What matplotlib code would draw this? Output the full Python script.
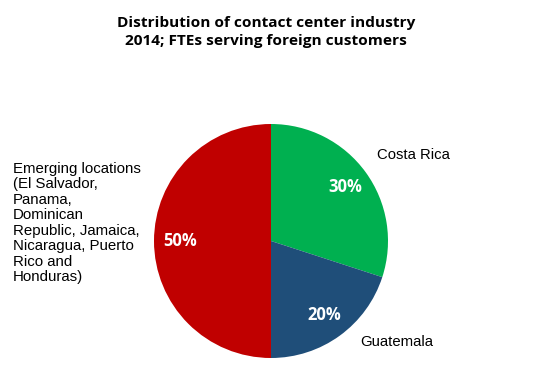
import matplotlib
matplotlib.use('Agg')
import matplotlib.pyplot as plt
import numpy as np

# Data
labels = ['Costa Rica', 'Guatemala',
          'Emerging locations\n(El Salvador,\nPanama,\nDominican\nRepublic, Jamaica,\nNicaragua, Puerto\nRico and\nHonduras)']
shares = [30, 20, 50]
colors = ['#00B050', '#1F4E79', '#C00000']
title = 'Distribution of contact center industry\n2014; FTEs serving foreign customers'

W, H = 540, 366
fig = plt.figure(figsize=(W / 100, H / 100), dpi=100)

# pie axes placed in pixel terms: center (271, 241), radius 117
cx, cy, r = 271, 241, 117
ax = fig.add_axes([(cx - r) / W, (H - cy - r) / H, 2 * r / W, 2 * r / H])
wedges, texts = ax.pie(shares, colors=colors, startangle=90, counterclock=False,
                       radius=1.0, wedgeprops=dict(linewidth=0))
ax.set_xlim(-1, 1)
ax.set_ylim(-1, 1)
ax.set_aspect('equal')
ax.axis('off')

# percentage labels inside slices
for w, s in zip(wedges, shares):
    mid = np.deg2rad((w.theta1 + w.theta2) / 2)
    ax.text(0.78 * np.cos(mid), 0.78 * np.sin(mid), f'{s}%', color='white',
            fontsize=12, fontweight='bold', family='Open Sans',
            ha='center', va='center')

# category labels (figure pixel positions)
def px(x, y):
    return x / W, 1 - y / H

fig.text(*px(377, 155), labels[0], fontsize=10.7, family='Liberation Sans',
         ha='left', va='center')
fig.text(*px(360, 342), labels[1], fontsize=10.7, family='Liberation Sans',
         ha='left', va='center')
fig.text(*px(13, 223), labels[2], fontsize=10.8, family='Liberation Sans',
         ha='left', va='center', linespacing=1.13)

fig.text(*px(266, 32), title, fontsize=11.1, fontweight='bold', family='Open Sans',
         ha='center', va='center', linespacing=1.42)

fig.savefig('out.png', dpi=100)
